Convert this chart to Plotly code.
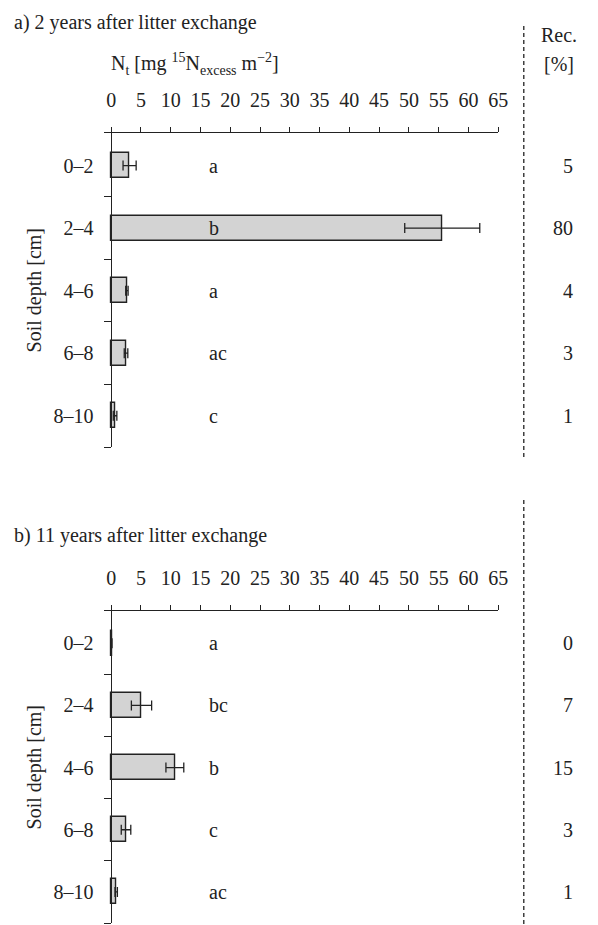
import plotly.graph_objects as go

# ---------------- data ----------------
depths = ["0–2", "2–4", "4–6", "6–8", "8–10"]

nt_a = [3.1, 55.6, 2.65, 2.5, 0.66]
err_a = [1.1, 6.3, 0.2, 0.3, 0.3]
letters_a = ["a", "b", "a", "ac", "c"]
rec_a = ["5", "80", "4", "3", "1"]

nt_b = [0.1, 5.1, 10.7, 2.5, 0.85]
err_b = [0.05, 1.7, 1.5, 0.8, 0.2]
letters_b = ["a", "bc", "b", "c", "ac"]
rec_b = ["0", "7", "15", "3", "1"]

x_ticks = list(range(0, 70, 5))

# ---------------- layout helpers ----------------
W, H = 598, 925
FONT = "'Liberation Serif', 'Times New Roman', Times, serif"
FS = 20
INK = "#222222"


def px(x):
    return x / W


def py(y):
    return 1 - y / H


cat_idx = list(range(len(depths)))
bounds = [i + 0.5 for i in cat_idx]

fig = go.Figure()

panels = [
    dict(vals=nt_a, err=err_a, letters=letters_a, rec=rec_a,
         xa="x", ya="y", top=133, bottom=447, yrange=[4.5, -0.52],
         title="a) 2 years after litter exchange", title_y=23,
         dash=(26, 457)),
    dict(vals=nt_b, err=err_b, letters=letters_b, rec=rec_b,
         xa="x2", ya="y2", top=611, bottom=923, yrange=[4.5, -0.52],
         title="b) 11 years after litter exchange", title_y=535,
         dash=(500, 925)),
]

annotations = []
shapes = []
x_dom = [px(106), px(506.7)]
y_axis_pos = px(113.3)
letter_x = 16.1

for k, p in enumerate(panels):
    fig.add_trace(go.Bar(
        x=p["vals"], y=cat_idx, orientation="h", width=0.4,
        marker=dict(color="#d3d3d3", line=dict(color=INK, width=1.4)),
        error_x=dict(type="data", array=p["err"], visible=True,
                     color=INK, thickness=1.3, width=5),
        xaxis=p["xa"], yaxis=p["ya"], showlegend=False,
    ))
    sfx = "" if k == 0 else "2"
    dom = [py(p["bottom"]), py(p["top"])]
    fig.layout["xaxis" + sfx] = dict(
        domain=x_dom, range=[-1.16, 65], side="top",
        anchor="y" + sfx, tickvals=x_ticks, ticks="outside", ticklen=5,
        tickwidth=1, tickcolor=INK, showline=True, linecolor=INK,
        linewidth=1, showgrid=False, zeroline=False,
        tickfont=dict(family=FONT, size=FS, color=INK),
        ticklabelstandoff=12, fixedrange=True,
    )
    fig.layout["yaxis" + sfx] = dict(
        domain=dom, range=p["yrange"], anchor="free", position=y_axis_pos,
        tickvals=cat_idx, ticktext=depths, ticks="outside", ticklen=0,
        showline=True, linecolor=INK, linewidth=1, showgrid=False,
        zeroline=False, tickfont=dict(family=FONT, size=FS, color=INK),
        ticklabelstandoff=14,
        minor=dict(tickvals=bounds, ticks="outside", ticklen=7,
                   tickwidth=1, tickcolor=INK, showgrid=False),
        fixedrange=True,
    )
    # significance letters
    for i, t in enumerate(p["letters"]):
        annotations.append(dict(x=letter_x, y=i, xref=p["xa"], yref=p["ya"],
                                text=t, showarrow=False, xanchor="left",
                                yanchor="middle",
                                font=dict(family=FONT, size=FS, color=INK)))
    # recovery values
    for i, t in enumerate(p["rec"]):
        annotations.append(dict(x=px(585), y=i, xref="paper", yref=p["ya"],
                                text=t, showarrow=False, xanchor="right",
                                yanchor="middle",
                                font=dict(family=FONT, size=FS, color=INK)))
    # panel title
    annotations.append(dict(x=px(12), y=py(p["title_y"]), xref="paper",
                            yref="paper", text=p["title"], showarrow=False,
                            xanchor="left", yanchor="middle",
                            font=dict(family=FONT, size=FS, color=INK)))
    # y-axis title
    annotations.append(dict(x=px(35), y=py((p["top"] + p["bottom"]) / 2),
                            xref="paper", yref="paper", text="Soil depth [cm]",
                            textangle=-90, showarrow=False,
                            xanchor="center", yanchor="middle",
                            font=dict(family=FONT, size=FS, color=INK)))
    # dashed separator
    shapes.append(dict(type="line", xref="paper", yref="paper",
                       x0=px(532.7), x1=px(532.7),
                       y0=py(p["dash"][0]), y1=py(p["dash"][1]),
                       line=dict(color=INK, width=1.3, dash="4px,3px")))

annotations.append(dict(x=px(111), y=py(64), xref="paper", yref="paper",
                        text="N<sub>t</sub> [mg <sup>15</sup>N<sub>excess</sub> m<sup>−2</sup>]",
                        showarrow=False, xanchor="left", yanchor="middle",
                        font=dict(family=FONT, size=FS, color=INK)))
annotations.append(dict(x=px(568), y=py(35), xref="paper", yref="paper",
                        text="Rec.", showarrow=False, xanchor="center",
                        yanchor="middle",
                        font=dict(family=FONT, size=FS, color=INK)))
annotations.append(dict(x=px(568), y=py(64), xref="paper", yref="paper",
                        text="[%]", showarrow=False, xanchor="center",
                        yanchor="middle",
                        font=dict(family=FONT, size=FS, color=INK)))

fig.update_layout(
    width=W, height=H, margin=dict(l=0, r=0, t=0, b=0),
    paper_bgcolor="white", plot_bgcolor="white",
    font=dict(family=FONT, size=FS, color=INK),
    annotations=annotations, shapes=shapes, bargap=0,
)

page_fix = """
document.documentElement.style.margin='0px';
document.documentElement.style.padding='0px';
document.documentElement.style.overflow='hidden';
document.body.style.margin='0px';
document.body.style.padding='0px';
document.body.style.overflow='hidden';
var gd = document.getElementById('{plot_id}');
gd.style.position='fixed';
gd.style.left='0px';
gd.style.top='0px';
"""

fig.write_html("out.html", config=dict(displayModeBar=False),
               post_script=page_fix)
